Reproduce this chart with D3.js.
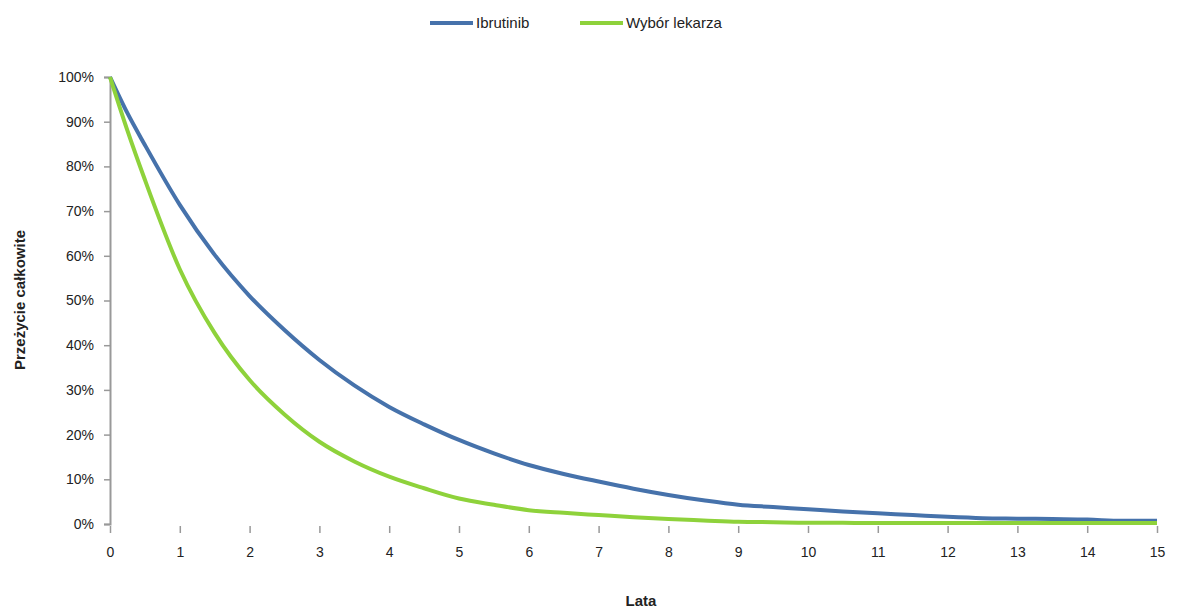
<!DOCTYPE html>
<html>
<head>
<meta charset="utf-8">
<script src="https://cdn.jsdelivr.net/npm/d3@7/dist/d3.min.js"></script>
<style>
  html, body { margin: 0; padding: 0; background: #fff; }
  svg text { font-family: "Liberation Sans", Arial, sans-serif; fill: #222; }
</style>
</head>
<body>
<svg id="chart" width="1178" height="609"></svg>
<script>
// Overall survival (percent alive) by year
const years = [0, 0.25, 0.5, 1, 1.5, 2, 2.5, 3, 3.5, 4, 4.5, 5, 5.5, 6, 6.5, 7, 7.5, 8, 8.5, 9, 9.5, 10, 10.5, 11, 11.5, 12, 12.5, 13, 13.5, 14, 14.5, 15];
const ibrutinib = [100, 91.9, 84.8, 71.4, 60.2, 51.0, 43.4, 36.7, 31.0, 26.2, 22.3, 18.8, 15.8, 13.2, 11.2, 9.5, 7.9, 6.5, 5.3, 4.3, 3.8, 3.3, 2.8, 2.4, 2.0, 1.6, 1.3, 1.2, 1.1, 1.0, 0.7, 0.7];
const wyborLekarza = [100, 88.0, 77.0, 57.0, 42.7, 32.2, 24.5, 18.4, 14.0, 10.6, 8.0, 5.7, 4.3, 3.1, 2.5, 2.0, 1.5, 1.1, 0.8, 0.5, 0.4, 0.3, 0.3, 0.2, 0.2, 0.2, 0.2, 0.2, 0.2, 0.2, 0.2, 0.2];

const seriesNames = ["Ibrutinib", "Wybór lekarza"];
const seriesColors = ["#4672ab", "#8ed23b"];
const xTicks = d3.range(0, 16);
const yTicks = d3.range(0, 101, 10);
const xTitle = "Lata";
const yTitle = "Przeżycie całkowite";

const svg = d3.select("#chart");
const x = d3.scaleLinear().domain([0, 15]).range([110, 1157]);
const y = d3.scaleLinear().domain([0, 100]).range([524, 77]);

const tickFont = "'Liberation Sans Narrow', 'Liberation Sans', Arial, sans-serif";

// Y axis: gray line with outward ticks and percent labels
const yAxis = svg.append("g").attr("transform", `translate(${x(0)},0)`)
  .call(d3.axisLeft(y).tickValues(yTicks).tickSize(6).tickPadding(10)
    .tickFormat(d => d + "%"));
yAxis.select(".domain").attr("stroke", "#999").attr("stroke-width", 2);
yAxis.selectAll(".tick line").attr("stroke", "#999").attr("stroke-width", 1.5);
yAxis.selectAll(".tick text").attr("font-size", 14).attr("fill", "#222")
  .attr("font-family", tickFont);

// X axis: ticks only, no baseline
const xAxis = svg.append("g").attr("transform", `translate(0,${y(0) + 2})`)
  .call(d3.axisBottom(x).tickValues(xTicks).tickSize(7).tickPadding(14)
    .tickFormat(d3.format("d")));
xAxis.select(".domain").remove();
xAxis.selectAll(".tick line").attr("stroke", "#999").attr("stroke-width", 1.5);
xAxis.selectAll(".tick text").attr("font-size", 14).attr("fill", "#222")
  .attr("font-family", tickFont);

// Survival curves
const line = d3.line()
  .x((d, i) => x(years[i]))
  .y(d => y(d))
  .curve(d3.curveMonotoneX);

[ibrutinib, wyborLekarza].forEach((vals, k) => {
  svg.append("path")
    .datum(vals)
    .attr("fill", "none")
    .attr("stroke", seriesColors[k])
    .attr("stroke-width", 4)
    .attr("stroke-linejoin", "round")
    .attr("d", line);
});

// Axis titles
svg.append("text")
  .attr("x", 641).attr("y", 606)
  .attr("text-anchor", "middle")
  .attr("font-size", 15).attr("font-weight", "bold")
  .text(xTitle);

svg.append("text")
  .attr("transform", "translate(25,300) rotate(-90)")
  .attr("text-anchor", "middle")
  .attr("font-size", 15).attr("font-weight", "bold")
  .text(yTitle);

// Legend
const legendItems = [
  { x: 430, name: seriesNames[0], color: seriesColors[0] },
  { x: 580, name: seriesNames[1], color: seriesColors[1] }
];
const lg = svg.append("g");
legendItems.forEach(it => {
  lg.append("line")
    .attr("x1", it.x).attr("x2", it.x + 43)
    .attr("y1", 23).attr("y2", 23)
    .attr("stroke", it.color).attr("stroke-width", 4);
  lg.append("text")
    .attr("x", it.x + 46).attr("y", 28)
    .attr("font-size", 15)
    .attr("font-family", tickFont)
    .text(it.name);
});
</script>
</body>
</html>
